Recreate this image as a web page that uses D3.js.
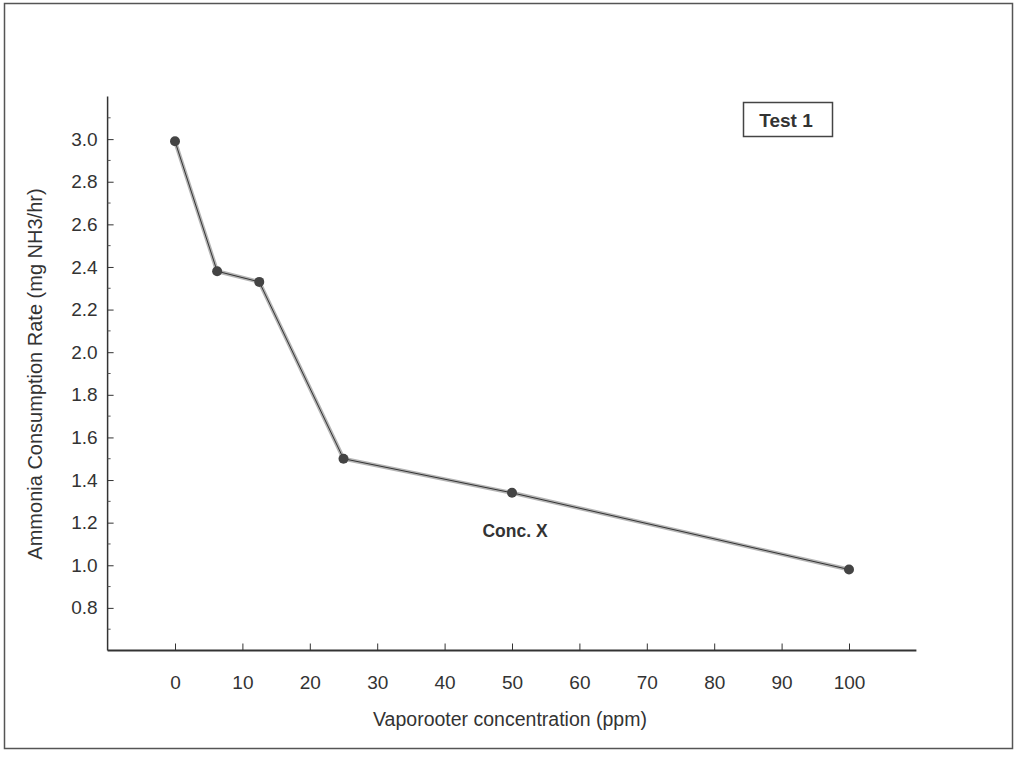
<!DOCTYPE html>
<html>
<head>
<meta charset="utf-8">
<script src="https://cdn.jsdelivr.net/npm/d3@7"></script>
<style>
  body { margin: 0; background: #fff; }
  text { font-family: "Liberation Sans", Arial, sans-serif; fill: #333; }
</style>
</head>
<body>
<div id="chart"></div>
<script>
// data
const concentration = [0, 6.25, 12.5, 25, 50, 100];
const consumption = [2.99, 2.38, 2.33, 1.50, 1.34, 0.98];
const xTicks = [0, 10, 20, 30, 40, 50, 60, 70, 80, 90, 100];
const yTicks = [0.8, 1.0, 1.2, 1.4, 1.6, 1.8, 2.0, 2.2, 2.4, 2.6, 2.8, 3.0];
const yMinorTicks = d3.range(0.7, 3.25, 0.2);
const seriesName = "Test 1";
const noteText = "Conc. X";

const svg = d3.select("#chart").append("svg")
  .attr("width", 1016)
  .attr("height", 759);

// frame of the scanned page
svg.append("rect")
  .attr("x", 4.5).attr("y", 3.5)
  .attr("width", 1008).attr("height", 745)
  .attr("fill", "none")
  .attr("stroke", "#555")
  .attr("stroke-width", 1.5);

const x = d3.scaleLinear().domain([-10, 110]).range([107.6, 916.4]);
const y = d3.scaleLinear().domain([0.6, 3.2]).range([650.5, 96.5]);

// Y axis (ticks point inward)
const yAxis = svg.append("g")
  .attr("transform", `translate(${x(-10)},0)`)
  .call(d3.axisRight(y).tickValues(yTicks).tickSize(6).tickFormat(d3.format(".1f")));
yAxis.select(".domain").attr("stroke", "#333").attr("stroke-width", 1.5).attr("d", `M0,${y(0.6)}V${y(3.2)}`);
yAxis.selectAll(".tick line").attr("stroke", "#333");
yAxis.selectAll(".tick text")
  .attr("x", -10)
  .attr("text-anchor", "end")
  .style("font-size", "19px");

svg.append("g")
  .attr("transform", `translate(${x(-10)},0)`)
  .selectAll("line")
  .data(yMinorTicks)
  .enter()
  .append("line")
  .attr("x1", 0).attr("x2", 3)
  .attr("y1", d => y(d)).attr("y2", d => y(d))
  .attr("stroke", "#555");

// X axis (ticks point upward)
const xAxis = svg.append("g")
  .attr("transform", `translate(0,${y(0.6)})`)
  .call(d3.axisTop(x).tickValues(xTicks).tickSize(7));
xAxis.select(".domain").attr("stroke", "#333").attr("stroke-width", 2).attr("d", `M${x(-10)},0H${x(110)}`);
xAxis.selectAll(".tick line").attr("stroke", "#333");
xAxis.selectAll(".tick text")
  .attr("y", 38)
  .style("font-size", "19px");

// line: grey halo with a thin dark core, as in the original
const pts = concentration.map((c, i) => ({c, v: consumption[i]}));
const line = d3.line().x(d => x(d.c)).y(d => y(d.v));

svg.append("path")
  .datum(pts)
  .attr("fill", "none")
  .attr("stroke", "#b5b5b5")
  .attr("stroke-width", 4)
  .attr("d", line);

svg.append("path")
  .datum(pts)
  .attr("fill", "none")
  .attr("stroke", "#333")
  .attr("stroke-width", 1)
  .attr("d", line);

svg.selectAll(".pt")
  .data(pts)
  .enter()
  .append("circle")
  .attr("class", "pt")
  .attr("cx", d => x(d.c))
  .attr("cy", d => y(d.v))
  .attr("r", 5)
  .attr("fill", "#444");

// legend box
svg.append("rect")
  .attr("x", 743.5).attr("y", 102.5)
  .attr("width", 89).attr("height", 34)
  .attr("fill", "#fff")
  .attr("stroke", "#444")
  .attr("stroke-width", 1.5);
svg.append("text")
  .attr("x", 786).attr("y", 127)
  .attr("text-anchor", "middle")
  .style("font-size", "19px")
  .style("font-weight", "bold")
  .text(seriesName);

// annotation
svg.append("text")
  .attr("x", 515).attr("y", 537)
  .attr("text-anchor", "middle")
  .style("font-size", "17.5px")
  .style("font-weight", "bold")
  .text(noteText);

// Label X
svg.append("text")
  .attr("x", 510)
  .attr("y", 726)
  .attr("text-anchor", "middle")
  .style("font-size", "19.5px")
  .text("Vaporooter concentration (ppm)");

// Label Y
svg.append("text")
  .attr("transform", "rotate(-90)")
  .attr("x", -374)
  .attr("y", 42)
  .attr("text-anchor", "middle")
  .style("font-size", "20px")
  .text("Ammonia Consumption Rate (mg NH3/hr)");
</script>
</body>
</html>
